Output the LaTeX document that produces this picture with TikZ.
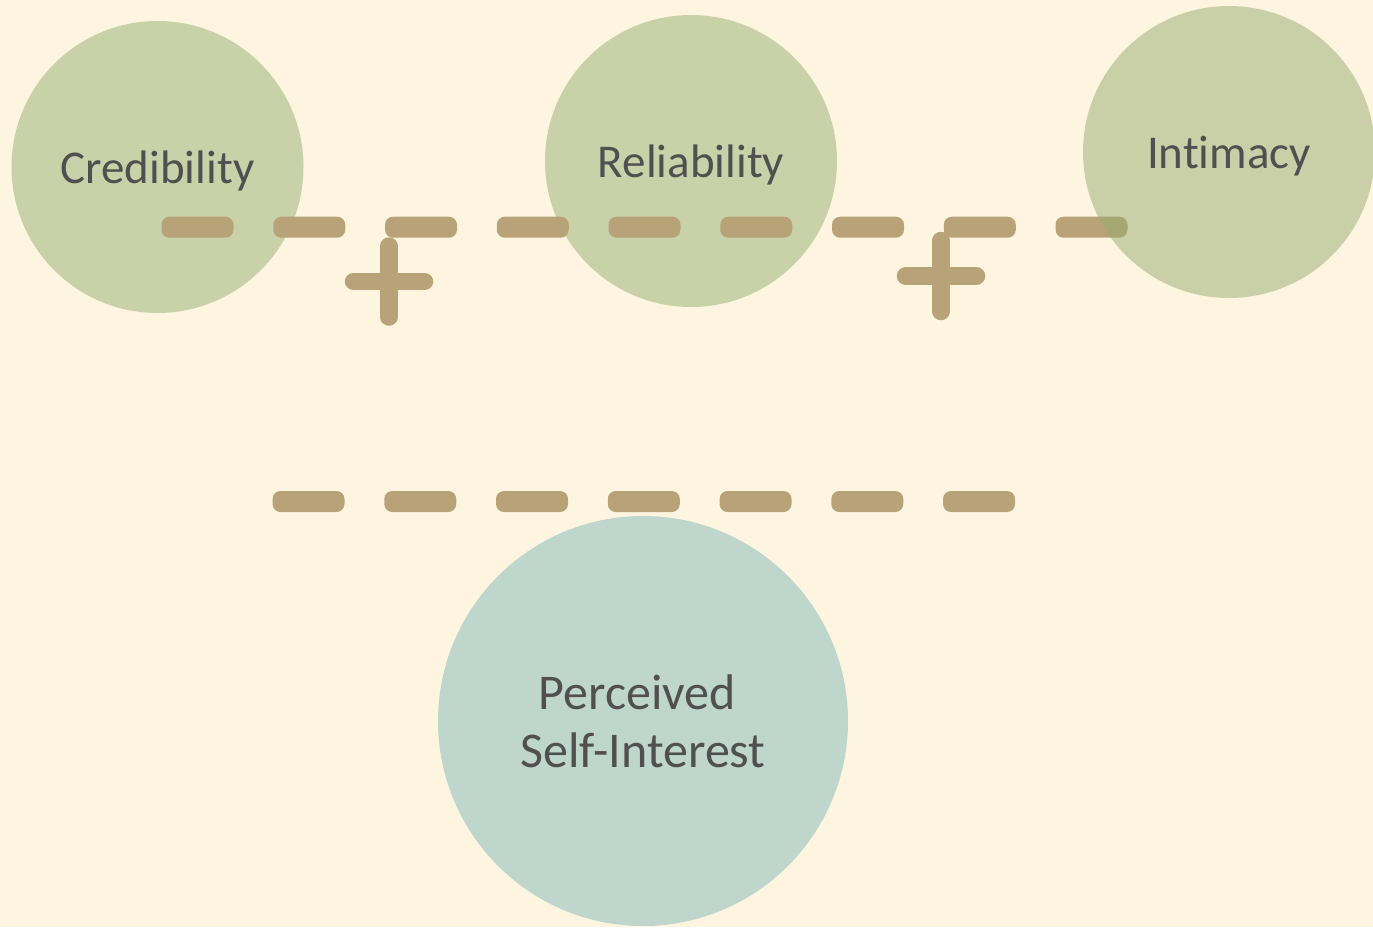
\documentclass[tikz,border=0pt]{standalone}
\usepackage{fontspec}
\setmainfont{Carlito}[Ligatures={NoCommon}]
\definecolor{bg}{HTML}{FEF5E0}
\definecolor{sage}{HTML}{C9D1A8}
\definecolor{sagedeep}{HTML}{95AD70}
\definecolor{mist}{HTML}{BFD6CD}
\definecolor{barcol}{HTML}{B8A378}
\definecolor{ink}{HTML}{505050}
\begin{document}
\begin{tikzpicture}[x=1pt,y=-1pt,
  bubble/.style={circle, inner sep=0pt, minimum size=292pt, fill=sage, text=ink,
    font=\fontsize{47}{58}\selectfont},
  oneline/.style={text height=33pt, text depth=0pt},
  bar/.style={fill=barcol, rounded corners=8pt},
  plusline/.style={draw=barcol, line width=17.5pt, line cap=round}]
\fill[bg] (0,0) rectangle (1373,927);
\useasboundingbox (0,0) rectangle (1373,927);
% circles under the dashes
\node[bubble, oneline] (cred) at (157.5,167) {Credibility};
\node[bubble, oneline] (reli) at (691,161) {Reliability};
\node[bubble, minimum size=410pt, fill=mist, align=center,
  font=\fontsize{50}{58}\selectfont] (psi) at (643,721) {Perceived\kern0.226em\\Self-Interest};
% top dashed bar
\foreach \i in {0,...,8}
  \fill[bar] ({161.5+111.75*\i},216.7) rectangle ++(72,21);
% bottom dashed bar
\foreach \i in {0,...,6}
  \fill[bar] ({272.5+111.75*\i},491) rectangle ++(72,21);
% plus signs
\coordinate (p1) at (389,281.5);
\coordinate (p2) at (941,276);
\foreach \p in {p1,p2}{
  \draw[plusline] ([xshift=-35.5pt]\p) -- ([xshift=35.5pt]\p);
  \draw[plusline] ([yshift=-35.5pt]\p) -- ([yshift=35.5pt]\p);
}
% Intimacy drawn over the last dash, half transparent
\node[bubble, oneline, fill=sagedeep, fill opacity=0.5, text opacity=1] (inti) at (1229,152) {Intimacy};
\end{tikzpicture}
\end{document}
